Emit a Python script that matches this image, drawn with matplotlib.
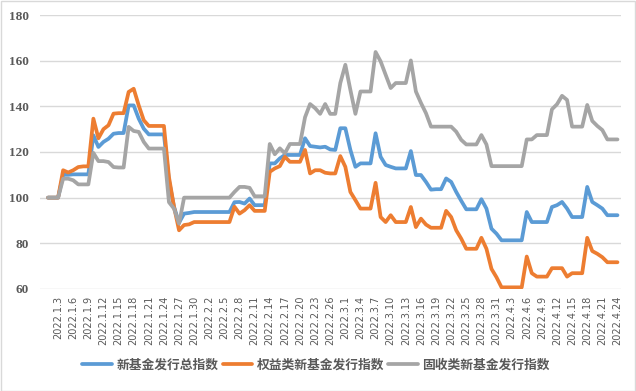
import matplotlib.pyplot as plt
import matplotlib.patches as patches

# 数据: 2022.1.1 - 2022.4.24 每日指数
total_idx = [100, 100, 100, 110, 110, 110.2, 110.2, 110.2, 110.2, 127.3,
             122.2, 124.4, 125.8, 128, 128.3, 128.3, 140.4, 140.4, 134.6, 130.2,
             127.7, 127.7, 127.7, 127.7, 107.6, 96, 89, 93, 93.3, 93.7,
             93.7, 93.7, 93.7, 93.7, 93.7, 93.7, 93.7, 98, 98.1, 97.4,
             99.6, 96.7, 96.7, 96.7, 115, 115, 117.2, 118.7, 118.7, 118.7,
             118.7, 126, 122.6, 122.3, 122, 122.3, 121.1, 120.9, 130.4, 130.4,
             120.9, 113.5, 115, 115, 115, 128.2, 117.9, 114.3, 113.5, 112.8,
             112.8, 112.8, 120.4, 109.9, 109.9, 106.9, 103.5, 103.7, 103.7, 108.4,
             106.9, 102.5, 98.6, 94.9, 94.9, 94.9, 99.3, 95.2, 86.4, 84.2,
             81.3, 81.3, 81.3, 81.3, 81.3, 93.7, 89.3, 89.3, 89.3, 89.3,
             95.9, 96.7, 98.1, 95.2, 91.5, 91.5, 91.5, 104.7, 98.1, 96.7,
             95.2, 92.3, 92.3, 92.3]
equity_idx = [100, 100, 100, 112, 111, 112, 113.4, 113.7, 113.7, 134.6,
              126, 130, 131.7, 136.8, 137, 137, 146.3, 147.7, 140.4, 133.9,
              131.4, 131.4, 131.4, 131.4, 109, 96, 85.7, 88, 88.3, 89.3,
              89.3, 89.3, 89.3, 89.3, 89.3, 89.3, 89.3, 96, 93, 94.5,
              96.7, 94.2, 94.2, 94.2, 111.3, 112.8, 113.8, 117.9, 115.7, 115.7,
              115.7, 120.9, 110.6, 112, 112, 110.9, 110.6, 110.6, 118.2, 113.5,
              102.5, 98.9, 95.2, 95.2, 95.2, 106.5, 91.5, 89.3, 92.3, 89.3,
              89.3, 89.3, 95.9, 87.1, 90.8, 88.2, 86.8, 86.8, 86.8, 94.2,
              91.5, 85.7, 82, 77.6, 77.6, 77.6, 82.4, 77.6, 68.8, 65.1,
              60.7, 60.7, 60.7, 60.7, 60.7, 74.2, 66.9, 65.4, 65.4, 65.4,
              69.1, 69.1, 69.1, 65.4, 66.9, 66.9, 66.9, 82.4, 76.6, 75.4,
              73.9, 71.7, 71.7, 71.7]
fixed_idx = [100, 100, 100, 108.3, 108.3, 107.6, 105.8, 105.8, 105.8, 119.6,
             116, 116, 115.6, 113.4, 113.2, 113.2, 131, 129.2, 128.8, 124.4,
             121.5, 121.5, 121.5, 121.5, 98, 95.2, 88.6, 100, 100, 100,
             100, 100, 100, 100, 100, 100, 100, 102.5, 104.7, 104.7,
             104.3, 100.6, 100.6, 100.6, 123.5, 119, 121.6, 119.4, 123.5, 123.5,
             123.5, 135.2, 141, 139.2, 136.7, 141, 136.7, 136.7, 150.2, 158.2,
             147.2, 136.7, 146.5, 146.5, 146.5, 163.8, 159.7, 153.8, 148, 150.2,
             150.2, 150.2, 160.1, 146.5, 141.5, 137, 131.1, 131.1, 131.1, 131.1,
             131.1, 128.9, 125.3, 123.3, 123.3, 123.3, 127.4, 123.3, 113.8, 113.8,
             113.8, 113.8, 113.8, 113.8, 113.8, 125.5, 125.5, 127.4, 127.4, 127.4,
             138.7, 140.9, 144.6, 142.8, 131.1, 131.1, 131.1, 140.6, 133.6, 131.4,
             129.6, 125.5, 125.5, 125.5]

tick_labels = ['2022.1.3', '2022.1.6', '2022.1.9', '2022.1.12', '2022.1.15', '2022.1.18',
               '2022.1.21', '2022.1.24', '2022.1.27', '2022.1.30', '2022.2.2', '2022.2.5',
               '2022.2.8', '2022.2.11', '2022.2.14', '2022.2.17', '2022.2.20', '2022.2.23',
               '2022.2.26', '2022.3.1', '2022.3.4', '2022.3.7', '2022.3.10', '2022.3.13',
               '2022.3.16', '2022.3.19', '2022.3.22', '2022.3.25', '2022.3.28', '2022.3.31',
               '2022.4.3', '2022.4.6', '2022.4.9', '2022.4.12', '2022.4.15', '2022.4.18',
               '2022.4.21', '2022.4.24']
names = ['新基金发行总指数', '权益类新基金发行指数', '固收类新基金发行指数']
colors = ['#5B9BD5', '#ED7D31', '#A5A5A5']

plt.rcParams['font.family'] = ['Noto Sans CJK SC', 'DejaVu Sans']

fig = plt.figure(figsize=(6.36, 3.91), dpi=100)
ax = fig.add_axes([0.0629, 0.261, 0.9135, 0.7006])

x = list(range(len(total_idx)))
for k, ys in enumerate([total_idx, equity_idx, fixed_idx]):
    ax.plot(x, ys, color=colors[k], lw=2.7, label=names[k], zorder=3 + k,
            solid_capstyle='round', solid_joinstyle='round')

ax.set_xlim(-1.59, 113.7)
ax.set_ylim(60, 180)
ax.set_yticks(range(60, 181, 20))
ax.set_xticks(range(2, 114, 3))
ax.set_xticklabels(tick_labels, rotation=90, fontsize=7, color='#595959',
                   family='DejaVu Sans')
for t in ax.get_yticklabels():
    t.set_family('Liberation Serif')
    t.set_fontweight('bold')
    t.set_fontsize(9.5)
    t.set_color('#595959')
ax.tick_params(axis='both', length=0)
ax.tick_params(axis='y', pad=8)
ax.tick_params(axis='x', pad=5)
ax.grid(axis='y', color='#d9d9d9', lw=1)
ax.set_axisbelow(True)
for s in ax.spines.values():
    s.set_visible(False)

leg = fig.legend(loc='center', bbox_to_anchor=(0.497, 0.066), ncol=3, frameon=False,
                 handlelength=2.3, handletextpad=0.35, columnspacing=0.35,
                 prop={'family': 'Noto Sans CJK SC', 'weight': 'bold', 'size': 9.2})
for t in leg.get_texts():
    t.set_color('#595959')

fig.patches.append(patches.Rectangle((0.001, 0.001), 0.997, 0.997, transform=fig.transFigure,
                                     fill=False, edgecolor='#d9d9d9', lw=1))

fig.savefig('out.png', dpi=100)
